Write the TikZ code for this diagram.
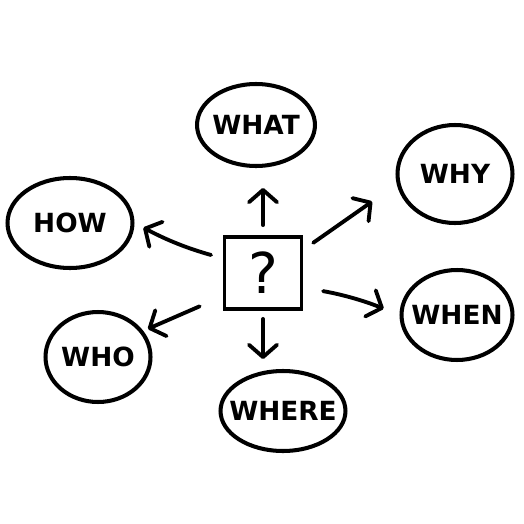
\documentclass[tikz,border=0pt]{standalone}
\usepackage{fontspec}
\setmainfont{DejaVu Sans}
\usetikzlibrary{arrows.meta, shapes.geometric, calc}
\newcommand{\btxt}[1]{\makebox[0pt][c]{#1}}

\begin{document}
\begin{tikzpicture}[
        x=0.02cm, y=-0.02cm,
        >={Straight Barb[length=7pt, width=16pt, round]},
        bubble/.style={ellipse, draw=black, line width=2.3pt, inner sep=0pt, font=\bfseries\fontsize{15}{15}\selectfont},
        qbox/.style={rectangle, draw=black, line width=2.2pt, minimum width=1.54cm, minimum height=1.44cm, inner sep=0pt, font=\fontsize{32}{32}\selectfont},
        arrow/.style={->, line width=2.2pt, line cap=round}
    ]
    \useasboundingbox (0,0) rectangle (524,524);

    %% --- Centre question box ---
    \node[qbox] (quest) at (263, 273) {?};

    %% --- Question bubbles ---
    \node[bubble, minimum width=2.36cm, minimum height=1.64cm] (what)  at (256, 125) {\btxt{WHAT}};
    \node[bubble, minimum width=2.30cm, minimum height=1.96cm] (why)   at (455, 174) {\btxt{WHY}};
    \node[bubble, minimum width=2.50cm, minimum height=1.80cm] (how)   at (70, 223)  {\btxt{HOW}};
    \node[bubble, minimum width=2.22cm, minimum height=1.80cm] (when)  at (457, 315) {\btxt{WHEN}};
    \node[bubble, minimum width=2.10cm, minimum height=1.80cm] (who)   at (98, 357)  {\btxt{WHO}};
    \node[bubble, minimum width=2.50cm, minimum height=1.60cm] (where) at (283, 411) {\btxt{WHERE}};

    %% --- Arrows out of the box ---
    \draw[arrow, shorten <=0.2cm, shorten >=0.4cm]  (quest.north) -- (quest.north |- what.south);
    \draw[arrow, shorten <=0.24cm, shorten >=0.6cm] (quest.30)    -- (why.190);
    \draw[arrow, shorten <=0.24cm, shorten >=0.2cm] (quest.160)   to[bend left=6] (how.east);
    \draw[arrow, shorten <=0.4cm, shorten >=0.34cm] (quest.-20)   to[bend left=6] (when.west);
    \draw[arrow, shorten <=0.16cm, shorten >=0.2cm] (quest.south) -- (quest.south |- where.north);
    \draw[arrow, shorten <=0.5cm, shorten >=0.1cm]  (quest.210)   -- (who.30);

\end{tikzpicture}
\end{document}
